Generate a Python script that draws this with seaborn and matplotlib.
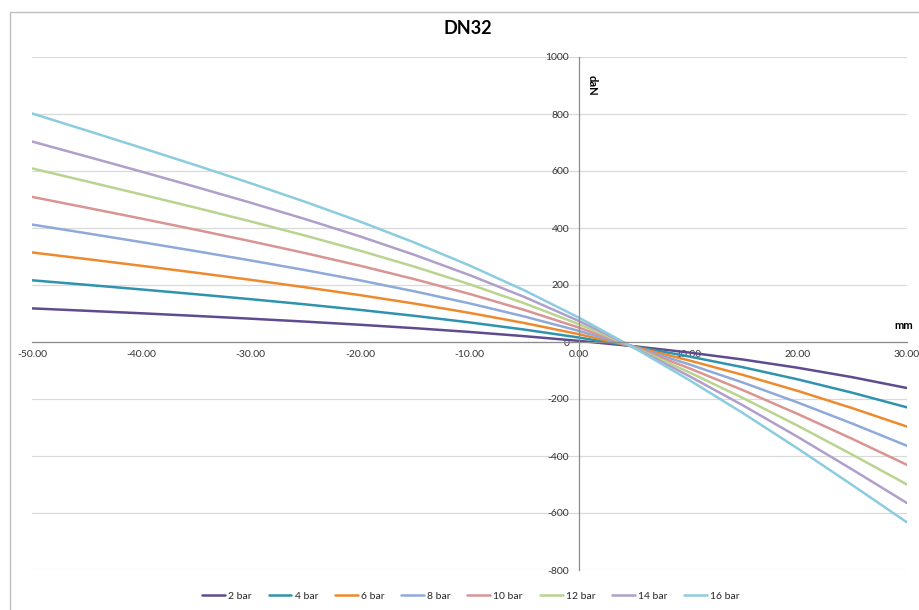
import matplotlib
matplotlib.use('Agg')
import matplotlib.pyplot as plt
import seaborn as sns
import pandas as pd
from matplotlib.ticker import FuncFormatter
from matplotlib.patches import Rectangle

# ---- data ----
mm = [-50, -45, -40, -35, -30, -25, -20, -15, -10, -5, 0, 5, 10, 15, 20, 25, 30]
bar_2 = [118, 109.5, 100.8, 91.5, 81.8, 71.5, 60.5, 48.5, 35.3, 20.5, 4, -14.8, -36.5, -61.5, -90.3, -123.5, -161.5]
bar_4 = [216.5, 200.6, 184.4, 167.6, 150.2, 132.0, 112.6, 91.7, 68.8, 43.7, 15.7, -15.4, -50.2, -88.6, -131.0, -178.0, -229.4]
bar_6 = [314.3, 291.0, 267.4, 243.2, 218.1, 192.0, 164.4, 134.6, 102.2, 66.7, 27.4, -16.1, -63.8, -115.5, -171.5, -232.1, -296.8]
bar_8 = [412.1, 381.5, 350.5, 318.8, 286.1, 252.1, 216.2, 177.5, 135.6, 89.7, 39.0, -16.8, -77.4, -142.3, -212.1, -286.3, -364.2]
bar_10 = [509.2, 471.3, 433.0, 393.8, 353.6, 311.7, 267.6, 220.1, 168.7, 112.6, 50.6, -17.5, -90.8, -169.0, -252.3, -340.0, -431.2]
bar_12 = [609.1, 563.6, 517.7, 471.0, 423.0, 373.1, 320.4, 263.9, 202.7, 136.1, 62.5, -18.2, -104.7, -196.5, -293.6, -395.3, -500.0]
bar_14 = [703.5, 650.9, 597.9, 543.9, 488.6, 431.0, 370.4, 305.3, 234.9, 158.3, 73.8, -18.8, -117.8, -222.4, -332.7, -447.5, -565.1]
bar_16 = [802, 742, 681.5, 620, 557, 491.5, 422.5, 348.5, 268.5, 181.5, 85.5, -19.5, -131.5, -249.5, -373.5, -502, -633]

series_names = ['2 bar', '4 bar', '6 bar', '8 bar', '10 bar', '12 bar', '14 bar', '16 bar']
series_values = [bar_2, bar_4, bar_6, bar_8, bar_10, bar_12, bar_14, bar_16]
colors = ['#5E4C8E', '#2F93AE', '#EE8A2E', '#8EA9DA', '#D99494', '#B9D48F', '#B09FCA', '#8CCCDF']

y_ticks = [-800, -600, -400, -200, 0, 200, 400, 600, 800, 1000]
x_ticks = [-50, -40, -30, -20, -10, 0, 10, 20, 30]

rows = []
for name, vals in zip(series_names, series_values):
    for x, y in zip(mm, vals):
        rows.append({'mm': x, 'daN': y, 'series': name})
df = pd.DataFrame(rows)

sns.set_theme(style='white')
plt.rcParams['font.family'] = ['Lato', 'DejaVu Sans']

fig = plt.figure(figsize=(9.2, 6.1), dpi=100)
ax = fig.add_axes([32 / 920, 40 / 610, 875 / 920, 513 / 610])

sns.lineplot(data=df, x='mm', y='daN', hue='series', hue_order=series_names,
             palette=colors, linewidth=1.8, ax=ax, errorbar=None)

ax.set_xlim(-50, 30)
ax.set_ylim(-800, 1000)
ax.set_xticks(x_ticks)
ax.set_yticks(y_ticks)
ax.xaxis.set_major_formatter(FuncFormatter(lambda v, p: f"{v:.2f}"))
ax.yaxis.set_major_formatter(FuncFormatter(lambda v, p: f"{int(v)}"))

ax.yaxis.grid(True, color='#D9D9D9', linewidth=0.9)
ax.xaxis.grid(False)
ax.set_axisbelow(True)
for gl in ax.get_ygridlines():
    gl.set_clip_on(False)

for s in ['top', 'right']:
    ax.spines[s].set_visible(False)
ax.spines['left'].set_position(('data', 0))
ax.spines['bottom'].set_position(('data', 0))
for s in ['left', 'bottom']:
    ax.spines[s].set_color('#8C8C8C')
    ax.spines[s].set_linewidth(0.9)

ax.tick_params(axis='x', direction='in', length=4, color='#8C8C8C', labelsize=7.5,
               labelcolor='#333333', pad=6)
ax.tick_params(axis='y', direction='out', length=4, color='#8C8C8C', labelsize=7.5,
               labelcolor='#333333', pad=3)
ax.set_xlabel('')
ax.set_ylabel('')

ax.text(29.7, 40, 'mm', ha='center', va='bottom', fontsize=8, fontweight='bold', color='black')
ax.text(1.2, 900, 'daN', ha='center', va='center', rotation=-90, fontsize=8,
        fontweight='bold', color='black')

fig.text(468 / 920, 1 - 28 / 610, 'DN32', ha='center', va='center', fontsize=13,
         fontweight='bold', color='black')

ax.legend(loc='center', bbox_to_anchor=(471 / 920, 1 - 596 / 610), bbox_transform=fig.transFigure,
          ncol=8, frameon=False, fontsize=7.5, handlelength=2.2, columnspacing=1.6,
          handletextpad=0.3)

fig.patches.append(Rectangle((10 / 920, -0.05), 1.0, (1 - 12 / 610) + 0.05,
                             transform=fig.transFigure, fill=False, edgecolor='#BFBFBF', lw=1))

fig.savefig('out.png', dpi=100)
